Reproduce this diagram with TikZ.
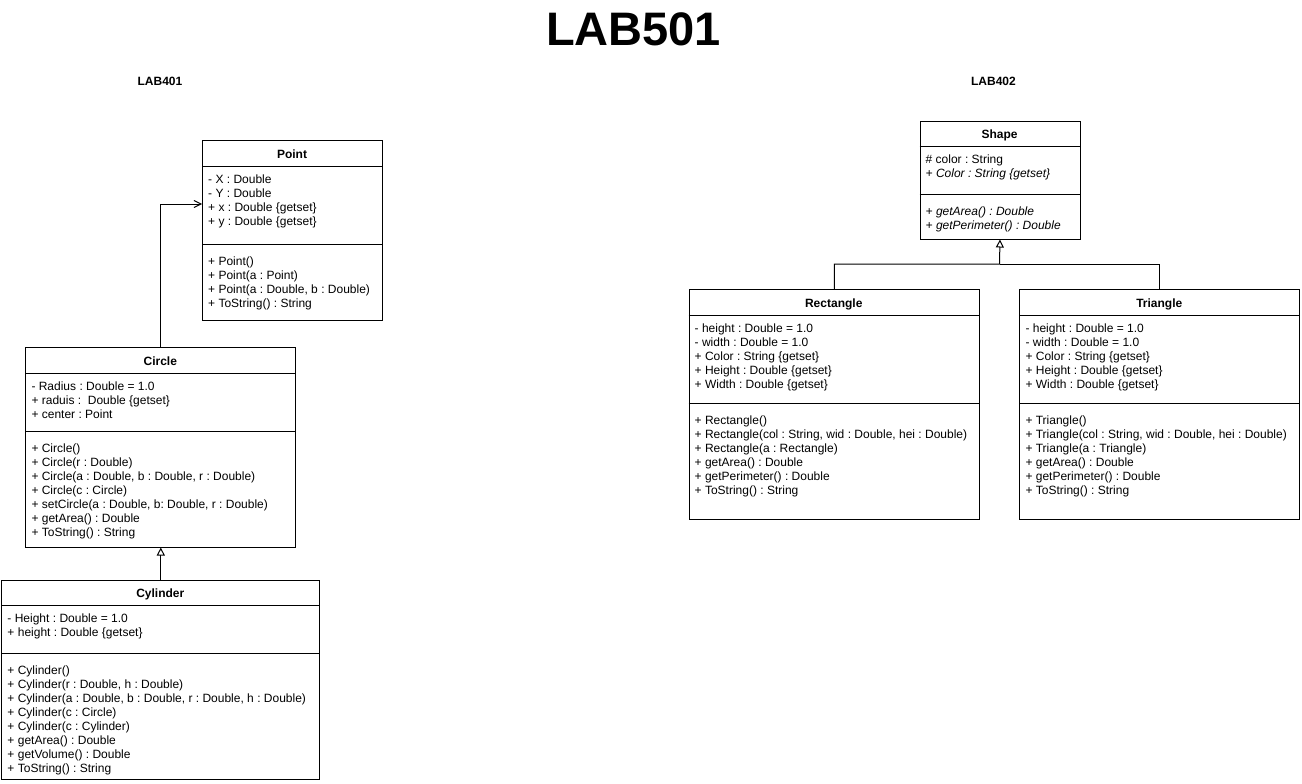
\documentclass[tikz,border=0pt]{standalone}
\usepackage{fontspec}
\setmainfont{Liberation Sans}
\usetikzlibrary{arrows.meta}
\tikzset{
  cls/.style={draw, line width=1pt, rectangle, inner sep=0pt, anchor=north west},
  hdr/.style={font=\fontsize{12}{14}\selectfont\bfseries, anchor=base, inner sep=0pt},
  mem/.style={font=\fontsize{12}{14}\selectfont\frenchspacing, anchor=north west, inner sep=0pt, align=left},
  sep/.style={line width=1pt},
  gen/.style={-{Triangle[open,length=8pt,width=8pt]}, line width=1pt},
  assoc/.style={-{Straight Barb[length=7pt,width=7pt]}, line width=1pt},
}
\begin{document}
\begin{tikzpicture}[x=1pt,y=-1pt]
\useasboundingbox (0,0) rectangle (1302,784);

% titles
\node[font=\fontsize{47}{50}\selectfont\bfseries, anchor=base, inner sep=0pt] (title) at (633.5,46) {LAB501};
\node[hdr] (lab401) at (160,85) {LAB401};
\node[hdr] (lab402) at (993.5,85) {LAB402};

% ---------- Point ----------
\node[cls, minimum width=180pt, minimum height=180pt] (point) at (202,140) {};
\draw[sep] (202,166) -- (382,166);
\draw[sep] (202,244) -- (382,244);
\node[hdr] (pointh) at (292,158.3) {Point};
\node[mem] (pointa) at (208,173) {\strut - X : Double\\- Y : Double\\+ x : Double \{getset\}\\+ y : Double \{getset\}};
\node[mem] (pointm) at (208,255.2) {\strut + Point()\\+ Point(a : Point)\\+ Point(a : Double, b : Double)\\+ ToString() : String};

% ---------- Circle ----------
\node[cls, minimum width=270pt, minimum height=199.5pt] (circle) at (25.3,347) {};
\draw[sep] (25.3,373) -- (295.3,373);
\draw[sep] (25.3,431) -- (295.3,431);
\node[hdr] (circleh) at (160.3,365.5) {Circle};
\node[mem] (circlea) at (31.3,380) {\strut - Radius : Double = 1.0\\+ raduis :\ \ Double \{getset\}\\+ center : Point};
\node[mem] (circlem) at (31.3,442.2) {\strut + Circle()\\+ Circle(r : Double)\\+ Circle(a : Double, b : Double, r : Double)\\+ Circle(c : Circle)\\+ setCircle(a : Double, b: Double, r : Double)\\+ getArea() : Double\\+ ToString() : String};

% ---------- Cylinder ----------
\node[cls, minimum width=318pt, minimum height=199.8pt] (cylinder) at (1.3,579.5) {};
\draw[sep] (1.3,605.3) -- (319.3,605.3);
\draw[sep] (1.3,653.3) -- (319.3,653.3);
\node[hdr] (cylinderh) at (160.3,597.8) {Cylinder};
\node[mem] (cylindera) at (7.3,612.3) {\strut - Height : Double = 1.0\\+ height : Double \{getset\}};
\node[mem] (cylinderm) at (7.3,664.5) {\strut + Cylinder()\\+ Cylinder(r : Double, h : Double)\\+ Cylinder(a : Double, b : Double, r : Double, h : Double)\\+ Cylinder(c : Circle)\\+ Cylinder(c : Cylinder)\\+ getArea() : Double\\+ getVolume() : Double\\+ ToString() : String};

% ---------- Shape ----------
\node[cls, minimum width=160pt, minimum height=118pt] (shape) at (919.5,120.5) {};
\draw[sep] (919.5,146.5) -- (1079.5,146.5);
\draw[sep] (919.5,194.5) -- (1079.5,194.5);
\node[hdr] (shapeh) at (999.5,138.8) {Shape};
\node[mem] (shapea) at (925.5,153) {\strut \# color : String\\\textit{+ Color : String \{getset\}}};
\node[mem] (shapem) at (925.5,205.2) {\strut \textit{+ getArea() : Double}\\\textit{+ getPerimeter() : Double}};

% ---------- Rectangle ----------
\node[cls, minimum width=290.5pt, minimum height=229.7pt] (rect) at (688.5,289.3) {};
\draw[sep] (688.5,315.3) -- (979,315.3);
\draw[sep] (688.5,403.5) -- (979,403.5);
\node[hdr] (recth) at (833.75,307.6) {Rectangle};
\node[mem] (recta) at (694.5,322.3) {\strut - height : Double = 1.0\\- width : Double = 1.0\\+ Color : String \{getset\}\\+ Height : Double \{getset\}\\+ Width : Double \{getset\}};
\node[mem] (rectm) at (694.5,414.7) {\strut + Rectangle()\\+ Rectangle(col : String, wid : Double, hei : Double)\\+ Rectangle(a : Rectangle)\\+ getArea() : Double\\+ getPerimeter() : Double\\+ ToString() : String};

% ---------- Triangle ----------
\node[cls, minimum width=280pt, minimum height=229.7pt] (tri) at (1019.3,289.3) {};
\draw[sep] (1019.3,315.3) -- (1299.3,315.3);
\draw[sep] (1019.3,403.5) -- (1299.3,403.5);
\node[hdr] (trih) at (1159.3,307.6) {Triangle};
\node[mem] (tria) at (1025.3,322.3) {\strut - height : Double = 1.0\\- width : Double = 1.0\\+ Color : String \{getset\}\\+ Height : Double \{getset\}\\+ Width : Double \{getset\}};
\node[mem] (trim) at (1025.3,414.7) {\strut + Triangle()\\+ Triangle(col : String, wid : Double, hei : Double)\\+ Triangle(a : Triangle)\\+ getArea() : Double\\+ getPerimeter() : Double\\+ ToString() : String};

% ---------- connectors ----------
\coordinate (pa) at (202,204);
\draw[assoc] (circle.north) |- (pa);
\draw[gen] (cylinder.north) -- (circle.south);
\coordinate (jn) at (999.5,264);
\draw[gen] (rect.north) |- (jn) -- (shape.south);
\draw[sep] (tri.north) |- (jn);
\end{tikzpicture}
\end{document}
